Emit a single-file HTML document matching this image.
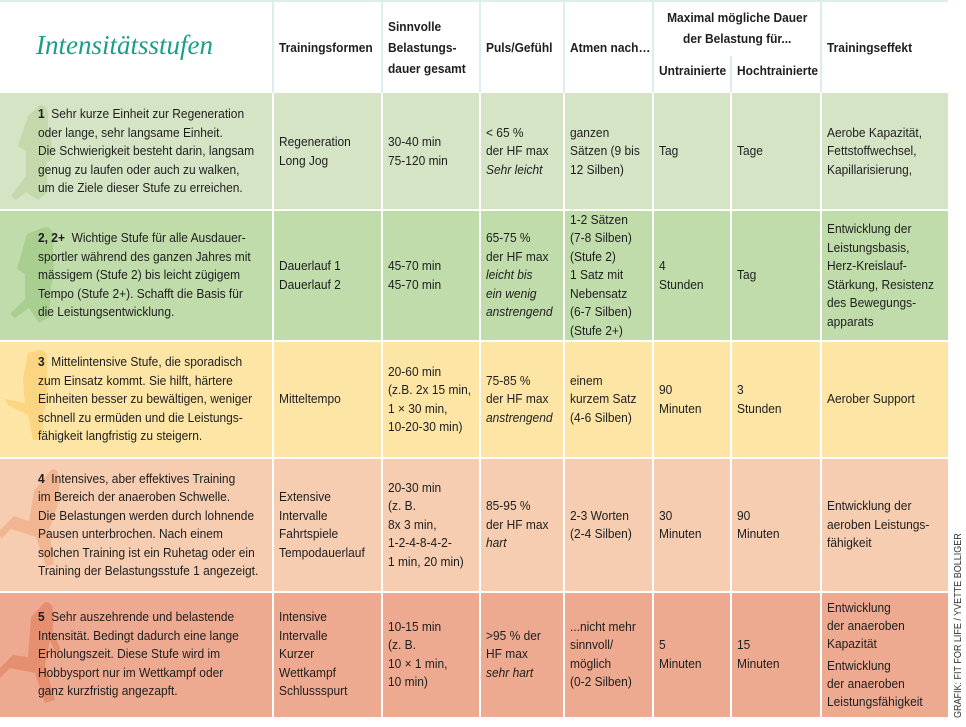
<!DOCTYPE html>
<html><head><meta charset="utf-8"><style>
body{margin:0;width:966px;height:727px;background:#fff;position:relative;overflow:hidden;font-family:"Liberation Sans",sans-serif;font-size:13px;color:#1e1e1e}
.c{position:absolute;display:flex;align-items:center;white-space:nowrap;line-height:18.5px;box-sizing:border-box;padding-left:6px}
.c>span{display:inline-block;transform:scaleX(.92);transform-origin:0 50%}
.h{font-weight:bold;font-size:13px;line-height:21px}
.vl{position:absolute;width:2px;background:#fff}
.hl{position:absolute;height:2px;background:#fff;left:0;width:948px}
i{font-style:italic}
.run{position:absolute}
</style></head><body>
<div style="position:absolute;left:0;top:0;width:948px;height:93px;background:#fff;border-top:2px solid #dcefed;box-sizing:border-box"></div>
<div style="position:absolute;left:36px;top:30px;font-family:'Liberation Serif',serif;font-style:italic;font-size:27px;color:#1a9e8a">Intensitätsstufen</div>
<div class="vl" style="left:272px;top:2px;height:91px;background:#dcefed"></div>
<div class="vl" style="left:381px;top:2px;height:91px;background:#dcefed"></div>
<div class="vl" style="left:479px;top:2px;height:91px;background:#dcefed"></div>
<div class="vl" style="left:563px;top:2px;height:91px;background:#dcefed"></div>
<div class="vl" style="left:652px;top:2px;height:91px;background:#dcefed"></div>
<div class="vl" style="left:730px;top:56px;height:37px;background:#dcefed"></div>
<div class="vl" style="left:820px;top:2px;height:91px;background:#dcefed"></div>
<div class="c h" style="left:273px;top:2px;width:108px;height:91px"><span>Trainingsformen</span></div>
<div class="c h" style="left:382px;top:2px;width:98px;height:91px"><span>Sinnvolle<br>Belastungs-<br>dauer gesamt</span></div>
<div class="c h" style="left:480px;top:2px;width:83px;height:91px"><span>Puls/Gefühl</span></div>
<div class="c h" style="left:564px;top:2px;width:88px;height:91px"><span>Atmen nach…</span></div>
<div class="c h" style="left:653px;top:8px;width:168px;height:40px;justify-content:center;padding:0;text-align:center"><span style="transform-origin:50% 50%">Maximal mögliche Dauer<br>der Belastung für...</span></div>
<div class="c h" style="left:653px;top:58px;width:78px;height:24px"><span>Untrainierte</span></div>
<div class="c h" style="left:731px;top:58px;width:90px;height:24px"><span>Hochtrainierte</span></div>
<div class="c h" style="left:821px;top:2px;width:127px;height:91px"><span>Trainingseffekt</span></div>
<div style="position:absolute;left:0;top:93px;width:948px;height:117px;background:#d6e4c6"></div>
<div style="position:absolute;left:0;top:210px;width:948px;height:131px;background:#c1dcab"></div>
<div style="position:absolute;left:0;top:341px;width:948px;height:117px;background:#fde5a6"></div>
<div style="position:absolute;left:0;top:458px;width:948px;height:134px;background:#f6cdb1"></div>
<div style="position:absolute;left:0;top:592px;width:948px;height:125px;background:#eeaa91"></div>
<svg class="run" style="left:8px;top:100px" width="45" height="105"><path d="M32 5 q8 0 8 10 v15 q5 10 3 30 l-5 2 l2 30 l-10 8 l-12 -8 l-10 8 l-5 -4 l15 -20 l0 -25 l-8 -5 l10 -30z" fill="#c3d8ab"/></svg>
<svg class="run" style="left:5px;top:222px" width="50" height="105"><path d="M40 5 q8 0 8 10 v20 q2 15 -2 30 l-2 30 l-10 6 l-10 -15 l-14 10 l-5 -4 l15 -15 l0 -25 l-8 -5 l10 -35z" fill="#a8ce90"/></svg>
<svg class="run" style="left:5px;top:346px" width="45" height="100"><path d="M35 4 q7 0 7 10 v25 q0 20 -4 30 l0 25 l-10 0 l-5 -25 l-20 -10 l-3 -6 l20 4 l-2 -25 l5 -25z" fill="#fbd582"/></svg>
<svg class="run" style="left:0px;top:465px" width="60" height="110"><path d="M52 4 q7 0 7 10 v20 q-5 20 -10 30 l5 35 l-8 3 l-10 -30 l-25 -8 l-10 10 l-2 -8 l15 -15 l15 5 l5 -30z" fill="#f1b592"/></svg>
<svg class="run" style="left:0px;top:598px" width="60" height="115"><path d="M45 4 q8 0 8 10 v20 l8 18 l-6 2 l-5 -12 l-5 25 l10 35 l-10 3 l-10 -30 l-25 -5 l-10 10 l-2 -8 l15 -15 l15 2 l3 -40z" fill="#e68e70"/></svg>
<div class="hl" style="top:209px"></div>
<div class="hl" style="top:340px"></div>
<div class="hl" style="top:457px"></div>
<div class="hl" style="top:591px"></div>
<div class="hl" style="top:717px;height:4px"></div>
<div class="vl" style="left:272px;top:93px;height:624px"></div>
<div class="vl" style="left:381px;top:93px;height:624px"></div>
<div class="vl" style="left:479px;top:93px;height:624px"></div>
<div class="vl" style="left:563px;top:93px;height:624px"></div>
<div class="vl" style="left:652px;top:93px;height:624px"></div>
<div class="vl" style="left:730px;top:93px;height:624px"></div>
<div class="vl" style="left:820px;top:93px;height:624px"></div>
<div class="c" style="left:32px;top:93px;height:117px"><span><b>1</b>&nbsp; Sehr kurze Einheit zur Regeneration<br>oder lange, sehr langsame Einheit.<br>Die Schwierigkeit besteht darin, langsam<br>genug zu laufen oder auch zu walken,<br>um die Ziele dieser Stufe zu erreichen.</span></div>
<div class="c" style="left:273px;top:93px;height:117px"><span>Regeneration<br>Long Jog</span></div>
<div class="c" style="left:382px;top:93px;height:117px"><span>30-40 min<br>75-120 min</span></div>
<div class="c" style="left:480px;top:93px;height:117px"><span>&lt; 65 %<br>der HF max<br><i>Sehr leicht</i></span></div>
<div class="c" style="left:564px;top:93px;height:117px"><span>ganzen<br>Sätzen (9 bis<br>12 Silben)</span></div>
<div class="c" style="left:653px;top:93px;height:117px"><span>Tag</span></div>
<div class="c" style="left:731px;top:93px;height:117px"><span>Tage</span></div>
<div class="c" style="left:821px;top:93px;height:117px"><span>Aerobe Kapazität,<br>Fettstoffwechsel,<br>Kapillarisierung,</span></div>
<div class="c" style="left:32px;top:210px;height:131px"><span><b>2, 2+</b>&nbsp; Wichtige Stufe für alle Ausdauer-<br>sportler während des ganzen Jahres mit<br>mässigem (Stufe 2) bis leicht zügigem<br>Tempo (Stufe 2+). Schafft die Basis für<br>die Leistungsentwicklung.</span></div>
<div class="c" style="left:273px;top:210px;height:131px"><span>Dauerlauf 1<br>Dauerlauf 2</span></div>
<div class="c" style="left:382px;top:210px;height:131px"><span>45-70 min<br>45-70 min</span></div>
<div class="c" style="left:480px;top:210px;height:131px"><span>65-75 %<br>der HF max<br><i>leicht bis<br>ein wenig<br>anstrengend</i></span></div>
<div class="c" style="left:564px;top:210px;height:131px"><span>1-2 Sätzen<br>(7-8 Silben)<br>(Stufe 2)<br>1 Satz mit<br>Nebensatz<br>(6-7 Silben)<br>(Stufe 2+)</span></div>
<div class="c" style="left:653px;top:210px;height:131px"><span>4<br>Stunden</span></div>
<div class="c" style="left:731px;top:210px;height:131px"><span>Tag</span></div>
<div class="c" style="left:821px;top:210px;height:131px"><span>Entwicklung der<br>Leistungsbasis,<br>Herz-Kreislauf-<br>Stärkung, Resistenz<br>des Bewegungs-<br>apparats</span></div>
<div class="c" style="left:32px;top:341px;height:117px"><span><b>3</b>&nbsp; Mittelintensive Stufe, die sporadisch<br>zum Einsatz kommt. Sie hilft, härtere<br>Einheiten besser zu bewältigen, weniger<br>schnell zu ermüden und die Leistungs-<br>fähigkeit langfristig zu steigern.</span></div>
<div class="c" style="left:273px;top:341px;height:117px"><span>Mitteltempo</span></div>
<div class="c" style="left:382px;top:341px;height:117px"><span>20-60 min<br>(z.B. 2x 15 min,<br>1 × 30 min,<br>10-20-30 min)</span></div>
<div class="c" style="left:480px;top:341px;height:117px"><span>75-85 %<br>der HF max<br><i>anstrengend</i></span></div>
<div class="c" style="left:564px;top:341px;height:117px"><span>einem<br>kurzem Satz<br>(4-6 Silben)</span></div>
<div class="c" style="left:653px;top:341px;height:117px"><span>90<br>Minuten</span></div>
<div class="c" style="left:731px;top:341px;height:117px"><span>3<br>Stunden</span></div>
<div class="c" style="left:821px;top:341px;height:117px"><span>Aerober Support</span></div>
<div class="c" style="left:32px;top:458px;height:134px"><span><b>4</b>&nbsp; Intensives, aber effektives Training<br>im Bereich der anaeroben Schwelle.<br>Die Belastungen werden durch lohnende<br>Pausen unterbrochen. Nach einem<br>solchen Training ist ein Ruhetag oder ein<br>Training der Belastungsstufe 1 angezeigt.</span></div>
<div class="c" style="left:273px;top:458px;height:134px"><span>Extensive<br>Intervalle<br>Fahrtspiele<br>Tempodauerlauf</span></div>
<div class="c" style="left:382px;top:458px;height:134px"><span>20-30 min<br>(z. B.<br>8x 3 min,<br>1-2-4-8-4-2-<br>1 min, 20 min)</span></div>
<div class="c" style="left:480px;top:458px;height:134px"><span>85-95 %<br>der HF max<br><i>hart</i></span></div>
<div class="c" style="left:564px;top:458px;height:134px"><span>2-3 Worten<br>(2-4 Silben)</span></div>
<div class="c" style="left:653px;top:458px;height:134px"><span>30<br>Minuten</span></div>
<div class="c" style="left:731px;top:458px;height:134px"><span>90<br>Minuten</span></div>
<div class="c" style="left:821px;top:458px;height:134px"><span>Entwicklung der<br>aeroben Leistungs-<br>fähigkeit</span></div>
<div class="c" style="left:32px;top:592px;height:125px"><span><b>5</b>&nbsp; Sehr auszehrende und belastende<br>Intensität. Bedingt dadurch eine lange<br>Erholungszeit. Diese Stufe wird im<br>Hobbysport nur im Wettkampf oder<br>ganz kurzfristig angezapft.</span></div>
<div class="c" style="left:273px;top:592px;height:125px"><span>Intensive<br>Intervalle<br>Kurzer<br>Wettkampf<br>Schlussspurt</span></div>
<div class="c" style="left:382px;top:592px;height:125px"><span>10-15 min<br>(z. B.<br>10 × 1 min,<br>10 min)</span></div>
<div class="c" style="left:480px;top:592px;height:125px"><span>&gt;95 % der<br>HF max<br><i>sehr hart</i></span></div>
<div class="c" style="left:564px;top:592px;height:125px"><span>...nicht mehr<br>sinnvoll/<br>möglich<br>(0-2 Silben)</span></div>
<div class="c" style="left:653px;top:592px;height:125px"><span>5<br>Minuten</span></div>
<div class="c" style="left:731px;top:592px;height:125px"><span>15<br>Minuten</span></div>
<div class="c" style="left:821px;top:592px;height:125px;line-height:18px"><span>Entwicklung<br>der anaeroben<br>Kapazität<br><span style="display:block;height:4px"></span>Entwicklung<br>der anaeroben<br>Leistungsfähigkeit</span></div>
<div style="position:absolute;left:953px;top:718px;transform:rotate(-90deg) scaleX(.9);transform-origin:0 0;font-size:10px;white-space:nowrap;color:#333">GRAFIK: FIT FOR LIFE / YVETTE BOLLIGER</div>
</body></html>
